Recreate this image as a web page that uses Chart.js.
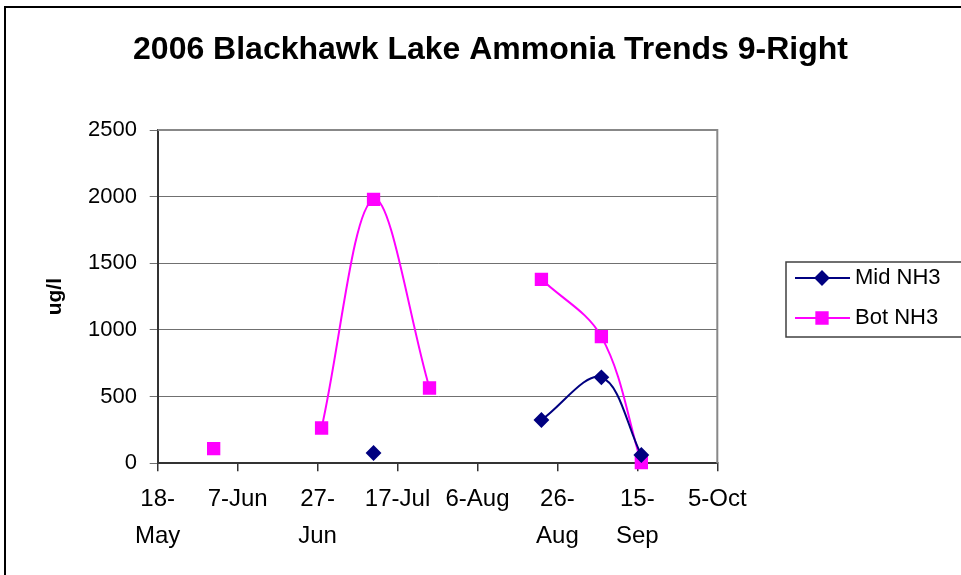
<!DOCTYPE html>
<html>
<head>
<meta charset="utf-8">
<title>2006 Blackhawk Lake Ammonia Trends 9-Right</title>
<script src="https://cdn.jsdelivr.net/npm/chart.js@4/dist/chart.umd.min.js"></script>
<style>
  html, body { margin: 0; padding: 0; background: #fff; }
  #wrap { width: 961px; height: 575px; position: relative; }
</style>
</head>
<body>
<div id="wrap"><canvas id="c" width="961" height="575"></canvas></div>
<script>
// Sampling dates and measured ammonia (ug/l); null = no sample for that series
const TITLE = '2006 Blackhawk Lake Ammonia Trends 9-Right';
const Y_TITLE = 'ug/l';
const AXIS_START = '2006-05-18';
const sampleDates = ['2006-06-01', '2006-06-14', '2006-06-28', '2006-07-11', '2006-07-25',
                     '2006-08-08', '2006-08-22', '2006-09-06', '2006-09-16'];
const midNH3 = [null, null, null, 77, null, null, 325, 645, 62];
const botNH3 = [110, null, 265, 1980, 565, null, 1380, 950, 5];
const xTickLabels = [['18-', 'May'], '7-Jun', ['27-', 'Jun'], '17-Jul', '6-Aug',
                     ['26-', 'Aug'], ['15-', 'Sep'], '5-Oct'];
const X_STEP_DAYS = 20;
const Y_MAX = 2500;
const Y_STEP = 500;

const FONT = '"Liberation Sans", Arial, Helvetica, sans-serif';
const DAY_MS = 86400000;
const startMs = new Date(AXIS_START).getTime();
const dayOf = d => (new Date(d).getTime() - startMs) / DAY_MS;
const toPoints = vals => sampleDates.map((d, i) => ({ x: dayOf(d), y: vals[i] }));

// Outer frame, plot border and heading
const framePlugin = {
  id: 'frame',
  beforeDraw(chart) {
    const ctx = chart.ctx;
    ctx.save();
    ctx.fillStyle = '#fff';
    ctx.fillRect(0, 0, chart.width, chart.height);
    ctx.strokeStyle = '#000';
    ctx.lineWidth = 2;
    ctx.strokeRect(5, 7, chart.width + 20, chart.height + 20);
    ctx.restore();
  },
  afterDraw(chart) {
    const ctx = chart.ctx;
    const a = chart.chartArea;
    ctx.save();
    ctx.strokeStyle = '#888';
    ctx.lineWidth = 2;
    ctx.beginPath();
    ctx.moveTo(a.left, a.top);
    ctx.lineTo(a.right, a.top);
    ctx.lineTo(a.right, a.bottom);
    ctx.stroke();
    ctx.fillStyle = '#000';
    ctx.font = 'bold 32px ' + FONT;
    ctx.textAlign = 'center';
    ctx.textBaseline = 'middle';
    ctx.fillText(TITLE, 490.5, 50);
    ctx.restore();
  }
};

// Boxed legend on the right: line sample with marker, then series name
const legendPlugin = {
  id: 'boxLegend',
  afterDraw(chart) {
    const ctx = chart.ctx;
    ctx.save();
    ctx.strokeStyle = '#404040';
    ctx.lineWidth = 1.5;
    ctx.strokeRect(786, 262, 220, 75);
    chart.data.datasets.forEach((ds, i) => {
      const y = 278 + i * 40;
      ctx.strokeStyle = ds.borderColor;
      ctx.lineWidth = ds.borderWidth;
      ctx.beginPath();
      ctx.moveTo(795, y);
      ctx.lineTo(850, y);
      ctx.stroke();
      ctx.fillStyle = ds.pointBackgroundColor;
      ctx.strokeStyle = ds.pointBorderColor;
      Chart.helpers.drawPoint(ctx, {
        pointStyle: ds.pointStyle, radius: ds.pointRadius, rotation: 0, borderWidth: 1
      }, 822, y);
      ctx.fillStyle = '#000';
      ctx.font = '22px ' + FONT;
      ctx.textAlign = 'left';
      ctx.textBaseline = 'middle';
      ctx.fillText(ds.label, 855, y);
    });
    ctx.restore();
  }
};

new Chart(document.getElementById('c'), {
  type: 'line',
  data: {
    datasets: [
      {
        label: 'Mid NH3',
        data: toPoints(midNH3),
        borderColor: '#000080',
        backgroundColor: '#000080',
        pointBackgroundColor: '#000080',
        pointBorderColor: '#000080',
        borderWidth: 2,
        pointStyle: 'rectRot',
        pointRadius: 6.5,
        tension: 0.35,
        spanGaps: false,
        clip: false
      },
      {
        label: 'Bot NH3',
        data: toPoints(botNH3),
        borderColor: '#FF00FF',
        backgroundColor: '#FF00FF',
        pointBackgroundColor: '#FF00FF',
        pointBorderColor: '#FF00FF',
        borderWidth: 2,
        pointStyle: 'rect',
        pointRadius: 8,
        tension: 0.35,
        spanGaps: false,
        clip: false
      }
    ]
  },
  options: {
    responsive: false,
    animation: false,
    devicePixelRatio: 1,
    layout: { padding: { left: 0, top: 130, right: 243.7, bottom: 0 } },
    plugins: {
      legend: { display: false },
      title: { display: false },
      tooltip: { enabled: false }
    },
    scales: {
      x: {
        type: 'linear',
        min: 0,
        max: X_STEP_DAYS * (xTickLabels.length - 1),
        afterFit: s => { s.height = 575 - 463.3; },
        ticks: {
          stepSize: X_STEP_DAYS,
          autoSkip: false,
          maxRotation: 0,
          padding: 9,
          color: '#000',
          font: { family: FONT, size: 24, lineHeight: 1.55 },
          callback: (v) => xTickLabels[Math.round(v / X_STEP_DAYS)]
        },
        grid: { drawOnChartArea: false, drawTicks: true, tickLength: 8, color: '#333', lineWidth: 1.5 },
        border: { color: '#333', width: 2 }
      },
      y: {
        min: 0,
        max: Y_MAX,
        afterFit: s => { s.width = 157.7; },
        ticks: {
          stepSize: Y_STEP,
          padding: 12.7,
          color: '#000',
          font: { family: FONT, size: 22 },
          callback: (v) => String(v)
        },
        grid: { color: '#707070', lineWidth: 1, drawTicks: true, tickLength: 8 },
        border: { color: '#333', width: 2 },
        title: {
          display: true,
          text: Y_TITLE,
          color: '#000',
          font: { family: FONT, size: 21, weight: 'bold' },
          padding: { top: 43, bottom: 0 }
        }
      }
    }
  },
  plugins: [framePlugin, legendPlugin]
});
</script>
</body>
</html>
